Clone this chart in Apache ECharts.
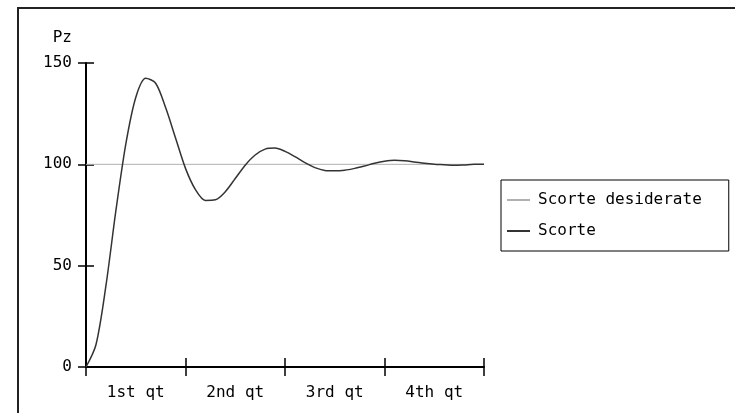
<!DOCTYPE html>
<html>
<head>
<meta charset="utf-8">
<script src="https://cdn.jsdelivr.net/npm/echarts@6/dist/echarts.min.js"></script>
<style>
  html, body { margin: 0; padding: 0; background: #fff; }
  #main { width: 735px; height: 413px; }
</style>
</head>
<body>
<div id="main"></div>
<script>
// categories on the x axis
var quarters = ['1st qt', '2nd qt', '3rd qt', '4th qt'];
// time in quarters for every sample of the stock curve
var steps = [0, 0.1, 0.2, 0.3, 0.4, 0.5, 0.6, 0.7, 0.8, 0.9,
             1.0, 1.1, 1.2, 1.3, 1.4, 1.5, 1.6, 1.7, 1.8, 1.9,
             2.0, 2.1, 2.2, 2.3, 2.4, 2.5, 2.6, 2.7, 2.8, 2.9,
             3.0, 3.1, 3.2, 3.3, 3.4, 3.5, 3.6, 3.7, 3.8, 3.9, 4.0];
// Scorte
var scorte = [0, 11, 40, 77, 110, 133, 142.5, 140, 128, 113,
              98, 87.5, 82.2, 82.5, 86.5, 93, 99.6, 104.6, 107.5, 108,
              106.4, 103.8, 100.8, 98.4, 97, 96.8, 97.1, 98, 99.2, 100.5,
              101.5, 102, 101.8, 101.2, 100.5, 100, 99.8, 99.5, 99.7, 100, 100];
// Scorte desiderate
var targetX = [0, 4];
var target = [100, 100];

var font = 'DejaVu Sans Mono';

var scorteData = steps.map(function (t, i) { return [t, scorte[i]]; });
var targetData = targetX.map(function (t, i) { return [t, target[i]]; });

var chart = echarts.init(document.getElementById('main'));

var option = {
    animation: false,
    backgroundColor: '#fff',
    graphic: [{
        type: 'rect',
        shape: { x: 18, y: 8, width: 800, height: 500 },
        style: { fill: null, stroke: '#222', lineWidth: 2 },
        silent: true
    }],
    grid: {
        left: 86,
        right: 251,
        top: 63,
        bottom: 46,
        outerBoundsMode: 'none'
    },
    legend: {
        orient: 'vertical',
        left: 501,
        top: 180,
        padding: [12, 27, 12, 6],
        icon: 'rect',
        itemWidth: 23,
        itemHeight: 2,
        itemGap: 15,
        borderColor: '#000',
        borderWidth: 1,
        textStyle: { fontFamily: font, fontSize: 16, color: '#000', padding: [0, 0, 0, 3] },
        data: ['Scorte desiderate', 'Scorte']
    },
    xAxis: [{
        type: 'value',
        min: 0,
        max: 4,
        interval: 1,
        position: 'bottom',
        axisLine: { show: true, onZero: false, lineStyle: { color: '#000', width: 2 } },
        axisTick: { show: true, length: 9, lineStyle: { color: '#000', width: 1.5 } },
        axisLabel: { show: false },
        splitLine: { show: false }
    }, {
        type: 'value',
        min: 0,
        max: 4,
        interval: 1,
        position: 'bottom',
        axisLine: { show: false },
        axisTick: { show: true, inside: true, length: 9, lineStyle: { color: '#000', width: 1.5 } },
        axisLabel: { show: false },
        splitLine: { show: false }
    }, {
        type: 'category',
        data: quarters,
        boundaryGap: true,
        position: 'bottom',
        axisLine: { show: false },
        axisTick: { show: false },
        axisLabel: { margin: 18, fontFamily: font, fontSize: 16, color: '#000' },
        splitLine: { show: false }
    }],
    yAxis: [{
        type: 'value',
        min: 0,
        max: 150,
        interval: 50,
        position: 'left',
        name: 'Pz',
        nameLocation: 'end',
        nameGap: 17,
        nameTextStyle: { fontFamily: font, fontSize: 16, color: '#000', align: 'right', padding: [0, 14, 0, 0] },
        axisLine: { show: true, onZero: false, lineStyle: { color: '#000', width: 2 } },
        axisTick: { show: true, length: 8, lineStyle: { color: '#000', width: 1.5 } },
        axisLabel: { margin: 14, fontFamily: font, fontSize: 16, color: '#000' },
        splitLine: { show: false }
    }, {
        type: 'value',
        min: 0,
        max: 150,
        interval: 50,
        position: 'left',
        axisLine: { show: false },
        axisTick: { show: true, inside: true, length: 8, lineStyle: { color: '#000', width: 1.5 } },
        axisLabel: { show: false },
        splitLine: { show: false }
    }],
    series: [{
        name: 'Scorte desiderate',
        type: 'line',
        xAxisIndex: 0,
        yAxisIndex: 0,
        symbol: 'none',
        data: targetData,
        itemStyle: { color: '#b0b0b0' },
        lineStyle: { color: '#b0b0b0', width: 1 }
    }, {
        name: 'Scorte',
        type: 'line',
        xAxisIndex: 0,
        yAxisIndex: 0,
        symbol: 'none',
        smooth: 0.3,
        data: scorteData,
        itemStyle: { color: '#333' },
        lineStyle: { color: '#333', width: 1.5 }
    }]
};

chart.setOption(option);
</script>
</body>
</html>
